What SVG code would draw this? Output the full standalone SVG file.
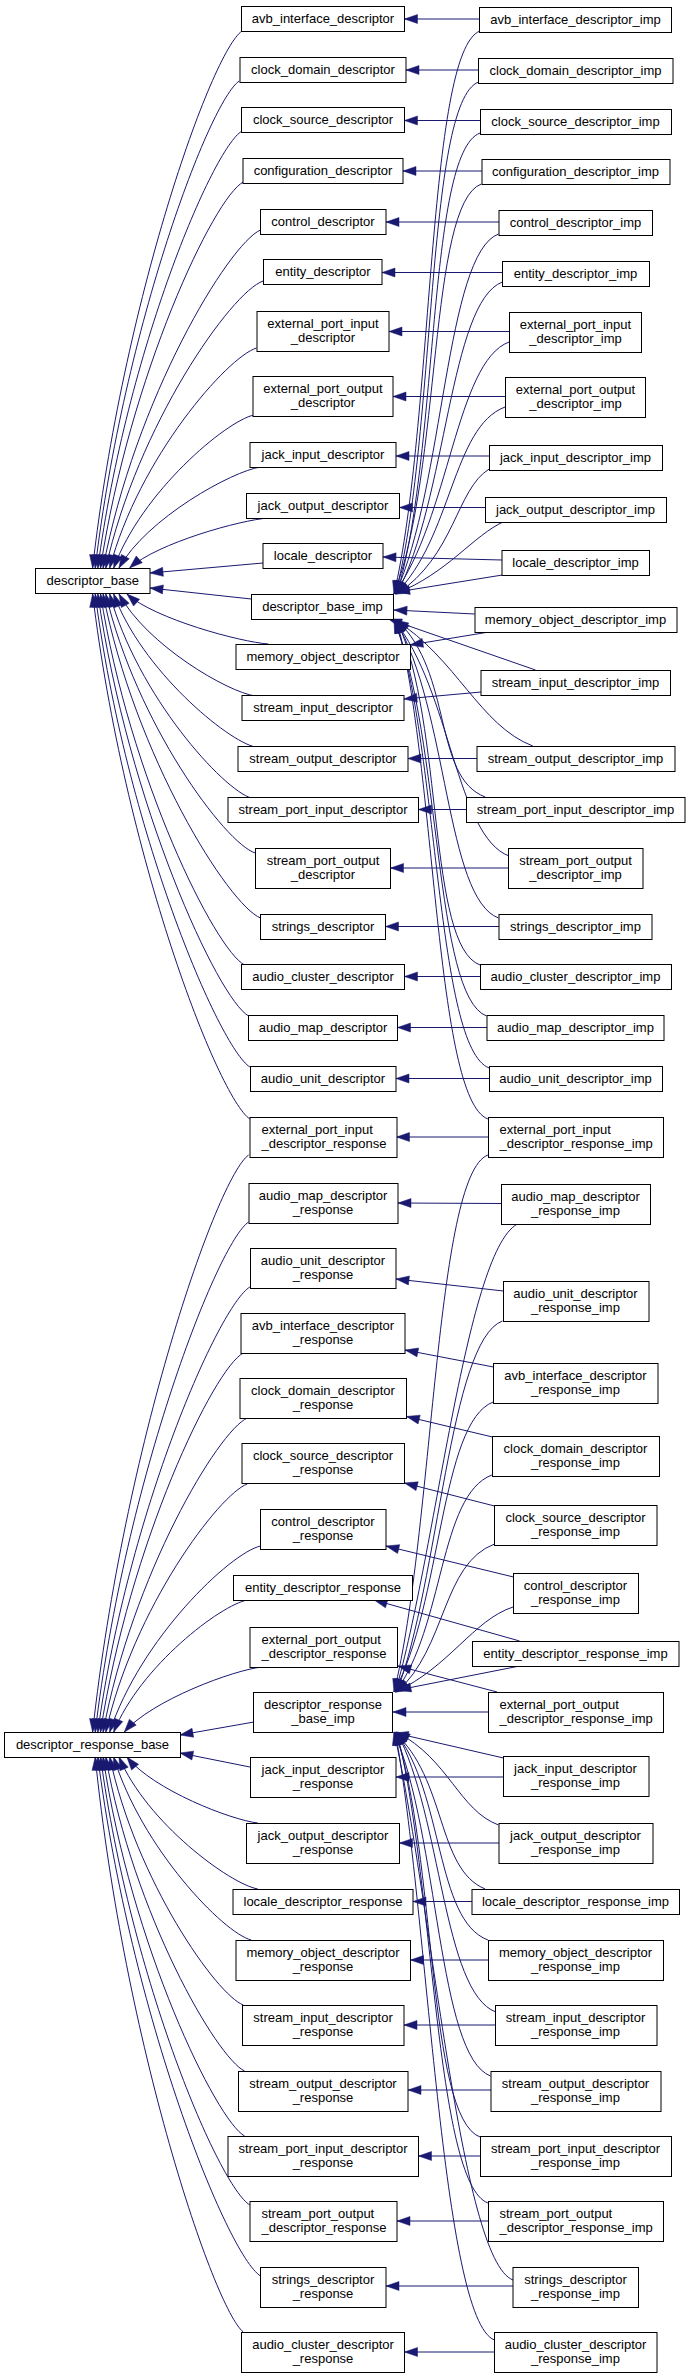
<svg xmlns="http://www.w3.org/2000/svg" width="691" height="2378" viewBox="0 0 691 2378">
<style>
.n rect{fill:#fff;stroke:#000;stroke-width:1}
.n text{font-family:"Liberation Sans",Arial,Helvetica,sans-serif;font-size:13px;fill:#000;text-anchor:middle}
.n text.l{text-anchor:start}
.e path{fill:none;stroke:#191970;stroke-width:1;marker-end:url(#ah)}
</style>
<defs>
<marker id="ah" viewBox="0 0 13 9" refX="13" refY="4.5" markerWidth="13" markerHeight="9" markerUnits="userSpaceOnUse" orient="auto" overflow="visible"><path d="M0,0 L13,4.5 L0,9 z" fill="#191970" stroke="#191970" stroke-width="0.5"/></marker>
</defs>
<rect width="691" height="2378" fill="#fff"/>
<g id="edges" class="e">
<path d="M242,31 C211.6,52 123,300 92.6,568"/>
<path d="M239.3,81 C210.2,100 124.3,325 95.2,568"/>
<path d="M242,131 C212.9,148 126.9,350 97.8,568"/>
<path d="M243.3,182 C214.2,197 129.6,375 100.5,568"/>
<path d="M260.5,230 C228.7,244 134.9,399 103.1,568"/>
<path d="M263.1,281 C231.4,292 137.5,425 105.8,568"/>
<path d="M256.5,348 C227.4,357 138.8,458 109.7,568"/>
<path d="M253.9,415 C226.1,421 141.5,492 113.7,568"/>
<path d="M260.5,467 C232.7,471 146.8,518 119,568"/>
<path d="M268.4,518 C240.6,520 157.3,543 129.6,568"/>
<path d="M263.1,563 L150,573"/>
<path d="M251.2,599 L150,588"/>
<path d="M268.4,644 C240.6,642 154.7,619 126.9,594"/>
<path d="M255.2,696 C227.4,692 146.8,645 119,594"/>
<path d="M255.2,747 C227.4,741 141.5,670 113.7,594"/>
<path d="M251.2,798 C223.5,790 137.5,696 109.7,594"/>
<path d="M255.2,853 C224.8,843 136.2,723 105.8,594"/>
<path d="M260.5,918 C228.7,905 134.9,756 103.1,594"/>
<path d="M244.6,965 C215.5,950 129.6,779 100.5,594"/>
<path d="M248.6,1016 C218.2,999 128.3,805 97.8,594"/>
<path d="M249.9,1067 C219.5,1048 125.6,830 95.2,594"/>
<path d="M249.9,1119 C218.2,1098 124.3,856 92.6,594"/>
<path d="M479.5,19 L404.5,19"/>
<path d="M478.5,70 L406,70"/>
<path d="M480.5,120.5 L404.5,120.5"/>
<path d="M482,171 L403,171"/>
<path d="M499,222 L386,222"/>
<path d="M502.5,272.5 L382,272.5"/>
<path d="M509.5,331.5 L389,331.5"/>
<path d="M505.5,396.5 L393,396.5"/>
<path d="M489.5,456 L396,456"/>
<path d="M485.5,507.5 L399.5,507.5"/>
<path d="M502,560 L383,557"/>
<path d="M489,632 L410,645"/>
<path d="M481,692 L404,699"/>
<path d="M477,758.5 L408,758.5"/>
<path d="M466.5,809.5 L418.5,809.5"/>
<path d="M508.5,868 L390.5,868"/>
<path d="M499,926.5 L385.5,926.5"/>
<path d="M480.5,976.5 L404.5,976.5"/>
<path d="M487,1027.5 L397.5,1027.5"/>
<path d="M489.5,1078.5 L396,1078.5"/>
<path d="M480,31 C427,51 433.7,425 394,594"/>
<path d="M478.6,82 C425.7,102 436.3,440 395.3,594"/>
<path d="M480,133 C427,153 439,456 396.7,594"/>
<path d="M481.3,184 C428.4,204 441.6,471 394,594"/>
<path d="M498.5,234 C445.6,254 444.3,486 395.3,594"/>
<path d="M502.4,282 C449.5,302 446.9,500 396.7,594"/>
<path d="M509,342 C456,362 449.5,518 394,594"/>
<path d="M505,407 C452.2,427 452.2,538 395.3,594"/>
<path d="M489.2,469 C456.2,489 454.8,556 396.7,594"/>
<path d="M505,521 C472,536 449.5,572 395.3,594"/>
<path d="M502.4,575 L396.7,592"/>
<path d="M474.7,614 L394,610"/>
<path d="M535.5,670 L388.7,619"/>
<path d="M532.8,746 C480,726 456.2,658 395.3,620"/>
<path d="M485.2,797 C432.4,777 453.5,673 396.7,620"/>
<path d="M509,856 C456.2,836 450.9,691 394,620"/>
<path d="M498.5,918 C445.6,898 448.2,709 395.3,620"/>
<path d="M480,965 C427,945 444.3,724 396.7,620"/>
<path d="M486.6,1016 C433.7,996 441.6,739 394,620"/>
<path d="M489.2,1068 C436.3,1048 439,754 395.3,620"/>
<path d="M487.9,1119 C435,1099 436.3,770 396.7,620"/>
<path d="M248.6,1155 C216.8,1178 124.3,1444 92.6,1732"/>
<path d="M248.6,1222 C218.2,1242 125.6,1477 95.2,1732"/>
<path d="M249.9,1287 C219.5,1305 128.3,1510 97.8,1732"/>
<path d="M243.3,1353 C214.2,1368 129.6,1543 100.5,1732"/>
<path d="M247.3,1418 C218.2,1431 132.2,1575 103.1,1732"/>
<path d="M247.3,1484 C219.5,1494 133.5,1608 105.8,1732"/>
<path d="M260.5,1546 C230.1,1553 140.2,1639 109.7,1732"/>
<path d="M247.3,1600 C220.8,1605 140.2,1666 113.7,1732"/>
<path d="M261.8,1667 C234,1670 152,1700 124.3,1732"/>
<path d="M253.9,1722 L180,1735"/>
<path d="M249.9,1767 L180,1753"/>
<path d="M257.8,1823 C231.4,1820 153.4,1790 126.9,1757"/>
<path d="M257.8,1889 C230.1,1884 146.8,1823 119,1757"/>
<path d="M251.2,1940 C223.5,1933 141.5,1848 113.7,1757"/>
<path d="M243.3,2005 C216.8,1995 136.2,1881 109.7,1757"/>
<path d="M244.6,2071 C216.8,2058 133.5,1914 105.8,1757"/>
<path d="M244.6,2136 C216.8,2121 130.9,1946 103.1,1757"/>
<path d="M249.9,2205 C219.5,2187 130.9,1981 100.5,1757"/>
<path d="M260.5,2276 C227.4,2255 130.9,2016 97.8,1757"/>
<path d="M243.3,2332 C214.2,2309 124.3,2044 95.2,1757"/>
<path d="M488.5,1137 L396.5,1137"/>
<path d="M501.5,1203.5 L398,1203"/>
<path d="M503.5,1291 L396,1279"/>
<path d="M493.5,1367 L405,1350"/>
<path d="M492.5,1437 L406.5,1416.5"/>
<path d="M494.5,1506 L404.5,1483"/>
<path d="M513.5,1577 L386,1546"/>
<path d="M519.6,1641 L374.2,1600"/>
<path d="M497.1,1692 L398,1666"/>
<path d="M503.5,1777 L396,1777"/>
<path d="M499,1843 L399.5,1843"/>
<path d="M472,1901.5 L413,1901.5"/>
<path d="M488.5,1960 L410.5,1960"/>
<path d="M495.5,2025 L404,2025"/>
<path d="M491,2090 L408,2090"/>
<path d="M480.5,2156 L418.5,2156"/>
<path d="M488.5,2221 L397,2221"/>
<path d="M513,2286 L386,2286"/>
<path d="M494.5,2352 L404.5,2352"/>
<path d="M487.9,1155 C435,1175 433.7,1531 394,1692"/>
<path d="M519.6,1223 C466.7,1243 436.3,1551 395.3,1692"/>
<path d="M502.4,1321 C449.5,1341 439,1581 396.7,1692"/>
<path d="M493.2,1402 C440.3,1422 441.6,1605 394,1692"/>
<path d="M491.9,1475 C439,1495 444.3,1627 395.3,1692"/>
<path d="M494.5,1544 C441.6,1564 446.9,1648 396.7,1692"/>
<path d="M513,1607 C473.3,1620 449.5,1667 395.3,1692"/>
<path d="M519.6,1666 L398,1690"/>
<path d="M488.5,1712 L393,1712"/>
<path d="M503.5,1758 L395.3,1733"/>
<path d="M498.5,1825 C458.8,1810 449.5,1760 396.7,1732"/>
<path d="M485.2,1889 C436.3,1869 446.9,1779 394,1732"/>
<path d="M487.9,1940 C435,1920 444.3,1794 395.3,1732"/>
<path d="M495.8,2012 C442.9,1992 441.6,1816 396.7,1732"/>
<path d="M490.5,2076 C437.7,2056 439,1835 394,1732"/>
<path d="M480,2137 C427,2117 436.3,1853 395.3,1732"/>
<path d="M487.9,2203 C435,2183 433.7,1873 396.7,1732"/>
<path d="M513,2280 C460.1,2260 431,1896 394,1732"/>
<path d="M494.5,2340 C441.6,2320 428.4,1914 395.3,1732"/>
</g>
<g id="descriptor_base" class="n"><rect x="35.5" y="568.5" width="114.5" height="25"/><text x="92.75" y="585">descriptor_base</text></g>
<g id="descriptor_response_base" class="n"><rect x="4.5" y="1732.5" width="176" height="25"/><text x="92.5" y="1749">descriptor_response_base</text></g>
<g id="avb_interface_descriptor" class="n"><rect x="241.5" y="6.5" width="163" height="25"/><text x="323" y="23">avb_interface_descriptor</text></g>
<g id="clock_domain_descriptor" class="n"><rect x="240" y="57.5" width="166" height="25"/><text x="323" y="74">clock_domain_descriptor</text></g>
<g id="clock_source_descriptor" class="n"><rect x="241.5" y="107.5" width="163" height="25"/><text x="323" y="124">clock_source_descriptor</text></g>
<g id="configuration_descriptor" class="n"><rect x="243" y="158.5" width="160" height="25"/><text x="323" y="175">configuration_descriptor</text></g>
<g id="control_descriptor" class="n"><rect x="260.5" y="209.5" width="125.5" height="25"/><text x="323" y="226">control_descriptor</text></g>
<g id="entity_descriptor" class="n"><rect x="263.5" y="259.5" width="118.5" height="25"/><text x="323" y="276">entity_descriptor</text></g>
<g id="external_port_input_descriptor" class="n"><rect x="257" y="311.5" width="132" height="40"/><text x="323" y="327.5">external_port_input</text><text x="323" y="341.5">_descriptor</text></g>
<g id="external_port_output_descriptor" class="n"><rect x="253" y="376.5" width="140" height="40"/><text x="323" y="392.5">external_port_output</text><text x="323" y="406.5">_descriptor</text></g>
<g id="jack_input_descriptor" class="n"><rect x="250" y="442.5" width="146" height="25"/><text x="323" y="459">jack_input_descriptor</text></g>
<g id="jack_output_descriptor" class="n"><rect x="246.5" y="493.5" width="153" height="25"/><text x="323" y="510">jack_output_descriptor</text></g>
<g id="locale_descriptor" class="n"><rect x="263" y="543.5" width="120" height="25"/><text x="323" y="560">locale_descriptor</text></g>
<g id="descriptor_base_imp" class="n"><rect x="251.5" y="594.5" width="142" height="25"/><text x="322.5" y="611">descriptor_base_imp</text></g>
<g id="memory_object_descriptor" class="n"><rect x="236" y="644.5" width="174.5" height="25"/><text x="323" y="661">memory_object_descriptor</text></g>
<g id="stream_input_descriptor" class="n"><rect x="242" y="695.5" width="162" height="25"/><text x="323" y="712">stream_input_descriptor</text></g>
<g id="stream_output_descriptor" class="n"><rect x="238" y="746.5" width="170" height="25"/><text x="323" y="763">stream_output_descriptor</text></g>
<g id="stream_port_input_descriptor" class="n"><rect x="228" y="797.5" width="190.5" height="25"/><text x="323" y="814">stream_port_input_descriptor</text></g>
<g id="stream_port_output_descriptor" class="n"><rect x="255.5" y="848.5" width="135" height="40"/><text x="323" y="864.5">stream_port_output</text><text x="323" y="878.5">_descriptor</text></g>
<g id="strings_descriptor" class="n"><rect x="260.5" y="914.5" width="125" height="25"/><text x="323" y="931">strings_descriptor</text></g>
<g id="audio_cluster_descriptor" class="n"><rect x="241.5" y="964.5" width="163" height="25"/><text x="323" y="981">audio_cluster_descriptor</text></g>
<g id="audio_map_descriptor" class="n"><rect x="248.5" y="1015.5" width="149" height="25"/><text x="323" y="1032">audio_map_descriptor</text></g>
<g id="audio_unit_descriptor" class="n"><rect x="250.5" y="1066.5" width="145.5" height="25"/><text x="323" y="1083">audio_unit_descriptor</text></g>
<g id="external_port_input_descriptor_response" class="n"><rect x="250" y="1117.5" width="147" height="40"/><text class="l" x="261.5" y="1133.5">external_port_input</text><text class="l" x="261.5" y="1147.5">_descriptor_response</text></g>
<g id="audio_map_descriptor_response" class="n"><rect x="249" y="1183.5" width="149" height="40"/><text x="323" y="1199.5">audio_map_descriptor</text><text x="323" y="1213.5">_response</text></g>
<g id="audio_unit_descriptor_response" class="n"><rect x="250.5" y="1248.5" width="145.5" height="40"/><text x="323" y="1264.5">audio_unit_descriptor</text><text x="323" y="1278.5">_response</text></g>
<g id="avb_interface_descriptor_response" class="n"><rect x="241" y="1313.5" width="164" height="40"/><text x="323" y="1329.5">avb_interface_descriptor</text><text x="323" y="1343.5">_response</text></g>
<g id="clock_domain_descriptor_response" class="n"><rect x="240" y="1378.5" width="166.5" height="40"/><text x="323" y="1394.5">clock_domain_descriptor</text><text x="323" y="1408.5">_response</text></g>
<g id="clock_source_descriptor_response" class="n"><rect x="242" y="1443.5" width="162.5" height="40"/><text x="323" y="1459.5">clock_source_descriptor</text><text x="323" y="1473.5">_response</text></g>
<g id="control_descriptor_response" class="n"><rect x="260.5" y="1509.5" width="125.5" height="40"/><text x="323" y="1525.5">control_descriptor</text><text x="323" y="1539.5">_response</text></g>
<g id="entity_descriptor_response" class="n"><rect x="233.5" y="1575.5" width="179" height="25"/><text x="323" y="1592">entity_descriptor_response</text></g>
<g id="external_port_output_descriptor_response" class="n"><rect x="250" y="1627.5" width="147.5" height="40"/><text class="l" x="261.5" y="1643.5">external_port_output</text><text class="l" x="261.5" y="1657.5">_descriptor_response</text></g>
<g id="descriptor_response_base_imp" class="n"><rect x="253.5" y="1692.5" width="139" height="40"/><text x="323" y="1708.5">descriptor_response</text><text x="323" y="1722.5">_base_imp</text></g>
<g id="jack_input_descriptor_response" class="n"><rect x="250.5" y="1757.5" width="145.5" height="40"/><text x="323" y="1773.5">jack_input_descriptor</text><text x="323" y="1787.5">_response</text></g>
<g id="jack_output_descriptor_response" class="n"><rect x="246.5" y="1823.5" width="153" height="40"/><text x="323" y="1839.5">jack_output_descriptor</text><text x="323" y="1853.5">_response</text></g>
<g id="locale_descriptor_response" class="n"><rect x="233" y="1889.5" width="180" height="25"/><text x="323" y="1906">locale_descriptor_response</text></g>
<g id="memory_object_descriptor_response" class="n"><rect x="236" y="1940.5" width="174.5" height="40"/><text x="323" y="1956.5">memory_object_descriptor</text><text x="323" y="1970.5">_response</text></g>
<g id="stream_input_descriptor_response" class="n"><rect x="242.5" y="2005.5" width="161.5" height="40"/><text x="323" y="2021.5">stream_input_descriptor</text><text x="323" y="2035.5">_response</text></g>
<g id="stream_output_descriptor_response" class="n"><rect x="238.5" y="2071.5" width="169.5" height="40"/><text x="323" y="2087.5">stream_output_descriptor</text><text x="323" y="2101.5">_response</text></g>
<g id="stream_port_input_descriptor_response" class="n"><rect x="228" y="2136.5" width="190.5" height="40"/><text x="323" y="2152.5">stream_port_input_descriptor</text><text x="323" y="2166.5">_response</text></g>
<g id="stream_port_output_descriptor_response" class="n"><rect x="250" y="2201.5" width="147" height="40"/><text class="l" x="261.5" y="2217.5">stream_port_output</text><text class="l" x="261.5" y="2231.5">_descriptor_response</text></g>
<g id="strings_descriptor_response" class="n"><rect x="260.5" y="2267.5" width="125.5" height="40"/><text x="323" y="2283.5">strings_descriptor</text><text x="323" y="2297.5">_response</text></g>
<g id="audio_cluster_descriptor_response" class="n"><rect x="241.5" y="2332.5" width="163" height="40"/><text x="323" y="2348.5">audio_cluster_descriptor</text><text x="323" y="2362.5">_response</text></g>
<g id="avb_interface_descriptor_imp" class="n"><rect x="479.5" y="7.5" width="192" height="25"/><text x="575.5" y="24">avb_interface_descriptor_imp</text></g>
<g id="clock_domain_descriptor_imp" class="n"><rect x="478.5" y="58.5" width="194.5" height="25"/><text x="575.5" y="75">clock_domain_descriptor_imp</text></g>
<g id="clock_source_descriptor_imp" class="n"><rect x="480.5" y="109.5" width="191" height="25"/><text x="575.5" y="126">clock_source_descriptor_imp</text></g>
<g id="configuration_descriptor_imp" class="n"><rect x="482" y="159.5" width="188" height="25"/><text x="575.5" y="176">configuration_descriptor_imp</text></g>
<g id="control_descriptor_imp" class="n"><rect x="499" y="210.5" width="153.5" height="25"/><text x="575.5" y="227">control_descriptor_imp</text></g>
<g id="entity_descriptor_imp" class="n"><rect x="502.5" y="261.5" width="147" height="25"/><text x="575.5" y="278">entity_descriptor_imp</text></g>
<g id="external_port_input_descriptor_imp" class="n"><rect x="509.5" y="312.5" width="132" height="40"/><text x="575.5" y="328.5">external_port_input</text><text x="575.5" y="342.5">_descriptor_imp</text></g>
<g id="external_port_output_descriptor_imp" class="n"><rect x="505.5" y="377.5" width="140" height="40"/><text x="575.5" y="393.5">external_port_output</text><text x="575.5" y="407.5">_descriptor_imp</text></g>
<g id="jack_input_descriptor_imp" class="n"><rect x="489.5" y="445.5" width="173" height="25"/><text x="575.5" y="462">jack_input_descriptor_imp</text></g>
<g id="jack_output_descriptor_imp" class="n"><rect x="485.5" y="497.5" width="181" height="25"/><text x="575.5" y="514">jack_output_descriptor_imp</text></g>
<g id="locale_descriptor_imp" class="n"><rect x="502" y="550.5" width="147.5" height="25"/><text x="575.5" y="567">locale_descriptor_imp</text></g>
<g id="memory_object_descriptor_imp" class="n"><rect x="475" y="607.5" width="202" height="25"/><text x="575.5" y="624">memory_object_descriptor_imp</text></g>
<g id="stream_input_descriptor_imp" class="n"><rect x="481" y="670.5" width="189.5" height="25"/><text x="575.5" y="687">stream_input_descriptor_imp</text></g>
<g id="stream_output_descriptor_imp" class="n"><rect x="477" y="746.5" width="198" height="25"/><text x="575.5" y="763">stream_output_descriptor_imp</text></g>
<g id="stream_port_input_descriptor_imp" class="n"><rect x="466.5" y="797.5" width="218.5" height="25"/><text x="575.5" y="814">stream_port_input_descriptor_imp</text></g>
<g id="stream_port_output_descriptor_imp" class="n"><rect x="508.5" y="848.5" width="134.5" height="40"/><text x="575.5" y="864.5">stream_port_output</text><text x="575.5" y="878.5">_descriptor_imp</text></g>
<g id="strings_descriptor_imp" class="n"><rect x="499" y="914.5" width="153" height="25"/><text x="575.5" y="931">strings_descriptor_imp</text></g>
<g id="audio_cluster_descriptor_imp" class="n"><rect x="480.5" y="964.5" width="191" height="25"/><text x="575.5" y="981">audio_cluster_descriptor_imp</text></g>
<g id="audio_map_descriptor_imp" class="n"><rect x="487" y="1015.5" width="177" height="25"/><text x="575.5" y="1032">audio_map_descriptor_imp</text></g>
<g id="audio_unit_descriptor_imp" class="n"><rect x="489.5" y="1066.5" width="173" height="25"/><text x="575.5" y="1083">audio_unit_descriptor_imp</text></g>
<g id="external_port_input_descriptor_response_imp" class="n"><rect x="488.5" y="1117.5" width="175" height="40"/><text class="l" x="499.5" y="1133.5">external_port_input</text><text class="l" x="499.5" y="1147.5">_descriptor_response_imp</text></g>
<g id="audio_map_descriptor_response_imp" class="n"><rect x="501.5" y="1184.5" width="149" height="40"/><text x="575.5" y="1200.5">audio_map_descriptor</text><text x="575.5" y="1214.5">_response_imp</text></g>
<g id="audio_unit_descriptor_response_imp" class="n"><rect x="503.5" y="1281.5" width="145.5" height="40"/><text x="575.5" y="1297.5">audio_unit_descriptor</text><text x="575.5" y="1311.5">_response_imp</text></g>
<g id="avb_interface_descriptor_response_imp" class="n"><rect x="493.5" y="1363.5" width="164.5" height="40"/><text x="575.5" y="1379.5">avb_interface_descriptor</text><text x="575.5" y="1393.5">_response_imp</text></g>
<g id="clock_domain_descriptor_response_imp" class="n"><rect x="492.5" y="1436.5" width="167" height="40"/><text x="575.5" y="1452.5">clock_domain_descriptor</text><text x="575.5" y="1466.5">_response_imp</text></g>
<g id="clock_source_descriptor_response_imp" class="n"><rect x="494.5" y="1505.5" width="162.5" height="40"/><text x="575.5" y="1521.5">clock_source_descriptor</text><text x="575.5" y="1535.5">_response_imp</text></g>
<g id="control_descriptor_response_imp" class="n"><rect x="513.5" y="1573.5" width="125" height="40"/><text x="575.5" y="1589.5">control_descriptor</text><text x="575.5" y="1603.5">_response_imp</text></g>
<g id="entity_descriptor_response_imp" class="n"><rect x="472.5" y="1641.5" width="206.5" height="25"/><text x="575.5" y="1658">entity_descriptor_response_imp</text></g>
<g id="external_port_output_descriptor_response_imp" class="n"><rect x="488.5" y="1692.5" width="175" height="40"/><text class="l" x="499.5" y="1708.5">external_port_output</text><text class="l" x="499.5" y="1722.5">_descriptor_response_imp</text></g>
<g id="jack_input_descriptor_response_imp" class="n"><rect x="503.5" y="1756.5" width="145.5" height="40"/><text x="575.5" y="1772.5">jack_input_descriptor</text><text x="575.5" y="1786.5">_response_imp</text></g>
<g id="jack_output_descriptor_response_imp" class="n"><rect x="499" y="1823.5" width="154" height="40"/><text x="575.5" y="1839.5">jack_output_descriptor</text><text x="575.5" y="1853.5">_response_imp</text></g>
<g id="locale_descriptor_response_imp" class="n"><rect x="472" y="1889.5" width="207.5" height="25"/><text x="575.5" y="1906">locale_descriptor_response_imp</text></g>
<g id="memory_object_descriptor_response_imp" class="n"><rect x="488.5" y="1940.5" width="175" height="40"/><text x="575.5" y="1956.5">memory_object_descriptor</text><text x="575.5" y="1970.5">_response_imp</text></g>
<g id="stream_input_descriptor_response_imp" class="n"><rect x="495.5" y="2005.5" width="161.5" height="40"/><text x="575.5" y="2021.5">stream_input_descriptor</text><text x="575.5" y="2035.5">_response_imp</text></g>
<g id="stream_output_descriptor_response_imp" class="n"><rect x="491" y="2071.5" width="170" height="40"/><text x="575.5" y="2087.5">stream_output_descriptor</text><text x="575.5" y="2101.5">_response_imp</text></g>
<g id="stream_port_input_descriptor_response_imp" class="n"><rect x="480.5" y="2136.5" width="191" height="40"/><text x="575.5" y="2152.5">stream_port_input_descriptor</text><text x="575.5" y="2166.5">_response_imp</text></g>
<g id="stream_port_output_descriptor_response_imp" class="n"><rect x="488.5" y="2201.5" width="175" height="40"/><text class="l" x="499.5" y="2217.5">stream_port_output</text><text class="l" x="499.5" y="2231.5">_descriptor_response_imp</text></g>
<g id="strings_descriptor_response_imp" class="n"><rect x="513" y="2267.5" width="125.5" height="40"/><text x="575.5" y="2283.5">strings_descriptor</text><text x="575.5" y="2297.5">_response_imp</text></g>
<g id="audio_cluster_descriptor_response_imp" class="n"><rect x="494.5" y="2332.5" width="162.5" height="40"/><text x="575.5" y="2348.5">audio_cluster_descriptor</text><text x="575.5" y="2362.5">_response_imp</text></g>
</svg>
